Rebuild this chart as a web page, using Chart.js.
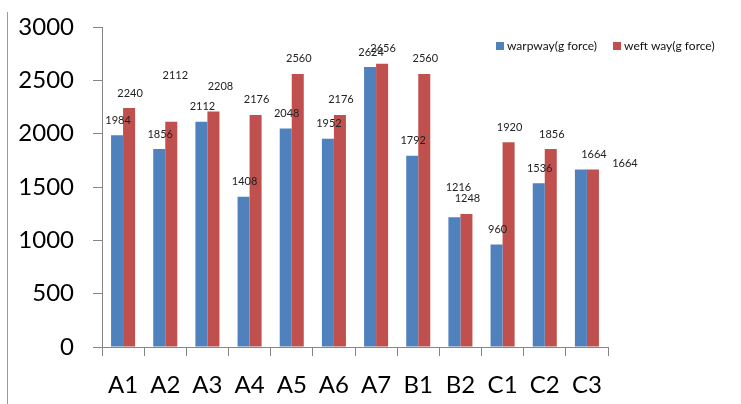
<!DOCTYPE html>
<html>
<head>
<meta charset="utf-8">
<script src="https://cdn.jsdelivr.net/npm/chart.js@4.4.1/dist/chart.umd.min.js"></script>
<style>
  html, body { margin: 0; padding: 0; background: #fff; }
  #wrap { width: 741px; height: 404px; position: relative; }
</style>
</head>
<body>
<div id="wrap"><canvas id="grafico"></canvas></div>
<script>
const categories = ['A1', 'A2', 'A3', 'A4', 'A5', 'A6', 'A7', 'B1', 'B2', 'C1', 'C2', 'C3'];
const warpway = [1984, 1856, 2112, 1408, 2048, 1952, 2624, 1792, 1216, 960, 1536, 1664];
const weftway = [2240, 2112, 2208, 2176, 2560, 2176, 2656, 2560, 1248, 1920, 1856, 1664];
const seriesNames = ['warpway(g force)', 'weft way(g force)'];
const seriesColors = ['#4F81BD', '#C0504D'];
const yMin = 0, yMax = 3000, yStep = 500;

// a few value labels sit off their bars in the original
const labelNudge = { '1-1': [3, -31], '1-2': [6, -10], '0-8': [3, -15], '0-11': [43, 9] };

const axisColor = '#868686';

// value labels, legend and the left frame line
const extras = {
  id: 'extras',
  afterDatasetsDraw(chart) {
    const ctx = chart.ctx;
    ctx.save();
    ctx.font = '11px Lato';
    ctx.fillStyle = '#222';
    ctx.textAlign = 'center';
    ctx.textBaseline = 'middle';
    chart.data.datasets.forEach((ds, di) => {
      chart.getDatasetMeta(di).data.forEach((bar, i) => {
        const n = labelNudge[di + '-' + i] || [0, 0];
        ctx.fillText(ds.data[i], bar.x + 1 + n[0], bar.y - 15 + n[1]);
      });
    });

    ctx.strokeStyle = '#9a9a9a';
    ctx.lineWidth = 1;
    ctx.beginPath();
    ctx.moveTo(7.5, 12);
    ctx.lineTo(7.5, 404);
    ctx.stroke();

    ctx.font = '12px Lato';
    ctx.textAlign = 'left';
    let x = 496;
    const y = 46;
    chart.data.datasets.forEach((ds) => {
      ctx.fillStyle = ds.backgroundColor;
      ctx.fillRect(x, y - 4, 8, 8);
      ctx.fillStyle = '#111';
      ctx.fillText(ds.label, x + 11, y);
      x += 11 + ctx.measureText(ds.label).width + 16;
    });
    ctx.restore();
  }
};

new Chart(document.getElementById('grafico'), {
  type: 'bar',
  data: {
    labels: categories,
    datasets: [
      { label: seriesNames[0], data: warpway, backgroundColor: seriesColors[0] },
      { label: seriesNames[1], data: weftway, backgroundColor: seriesColors[1] }
    ]
  },
  options: {
    responsive: true,
    maintainAspectRatio: false,
    animation: false,
    layout: { padding: { top: 27, right: 133, left: 0, bottom: 0 } },
    datasets: { bar: { categoryPercentage: 0.57, barPercentage: 1 } },
    plugins: {
      legend: { display: false },
      tooltip: { enabled: false }
    },
    scales: {
      x: {
        grid: { drawOnChartArea: false, tickLength: 9, color: axisColor, offset: true },
        border: { color: axisColor },
        ticks: { color: '#000', font: { family: 'Lato', size: 24 }, padding: 15 },
        afterFit(scale) { scale.height = 57; scale.paddingLeft = 0; scale.paddingRight = 0; }
      },
      y: {
        min: yMin,
        max: yMax,
        grid: { drawOnChartArea: false, tickLength: 9, color: axisColor },
        border: { color: axisColor },
        ticks: {
          stepSize: yStep,
          color: '#000',
          font: { family: 'Lato', size: 24 },
          padding: 19,
          callback: (v) => String(v)
        },
        afterFit(scale) { scale.width = 102; scale.paddingTop = 0; scale.paddingBottom = 0; }
      }
    }
  },
  plugins: [extras]
});
</script>
</body>
</html>
